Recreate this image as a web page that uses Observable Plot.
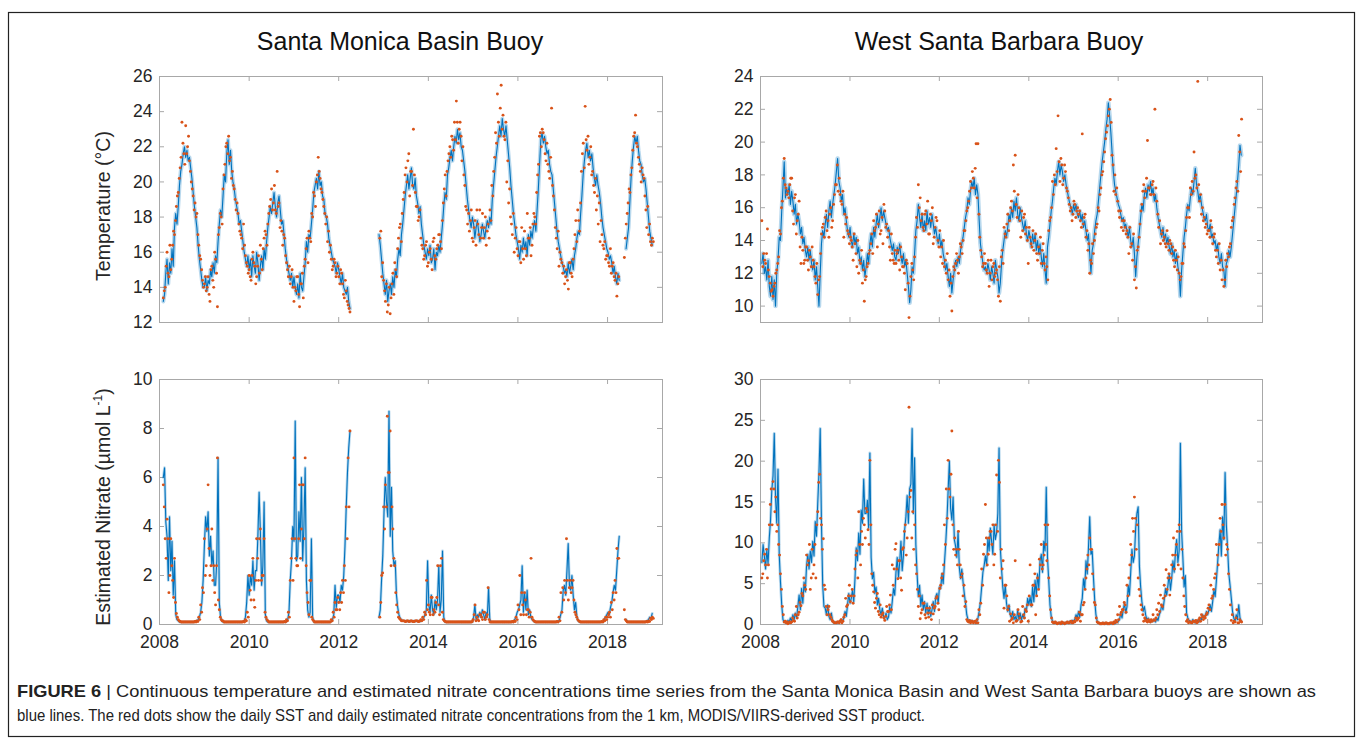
<!DOCTYPE html>
<html>
<head>
<meta charset="utf-8">
<script src="https://cdn.jsdelivr.net/npm/d3@7"></script>
<script src="https://cdn.jsdelivr.net/npm/@observablehq/plot@0.6"></script>
<style>
  html, body { margin: 0; padding: 0; background: #fff; }
  #fig { position: relative; width: 1358px; height: 739px; overflow: hidden;
         font-family: "Liberation Sans", Arial, Helvetica, sans-serif; }
  #fig > svg, #fig > div { position: absolute; }
</style>
</head>
<body>
<div id="fig">
  <svg id="deco" width="1358" height="739" style="left:0;top:0">
    <rect x="8.5" y="12.5" width="1346" height="724" fill="none" stroke="#222" stroke-width="1.2"/>
    <text x="400" y="49.5" text-anchor="middle" font-size="25" fill="#111">Santa Monica Basin Buoy</text>
    <text x="999" y="49.5" text-anchor="middle" font-size="25" fill="#111">West Santa Barbara Buoy</text>
    <text transform="translate(110,206) rotate(-90)" text-anchor="middle" font-size="19.5" fill="#262626">Temperature (°C)</text>
    <text transform="translate(110,507) rotate(-90)" text-anchor="middle" font-size="19.5" fill="#262626">Estimated Nitrate (µmol L<tspan font-size="12" dy="-8">-1</tspan><tspan dy="8">)</tspan></text>
    <g font-family="'Liberation Sans Narrow', 'Liberation Sans', Arial, sans-serif" font-size="17" fill="#222">
      <text x="17" y="697" textLength="1299" lengthAdjust="spacingAndGlyphs"><tspan font-weight="bold">FIGURE 6</tspan> | Continuous temperature and estimated nitrate concentrations time series from the Santa Monica Basin and West Santa Barbara buoys are shown as</text>
      <text x="17" y="721" textLength="908" lengthAdjust="spacingAndGlyphs">blue lines. The red dots show the daily SST and daily estimated nitrate concentrations from the 1 km, MODIS/VIIRS-derived SST product.</text>
    </g>
  </svg>
</div>
<script>
// ---------------------------------------------------------------------------
// Santa Monica Basin buoy: buoy series in three deployments, one value every
// ~10 days (36 per year); satellite values on two interleaved ~15-day grids.
// ---------------------------------------------------------------------------
const smbLineStarts = ["2008-02-01", "2012-11-25", "2018-06-01"];
const smbDotStarts = ["2008-02-01", "2008-02-09"];

const smbTempLineA = [
  // 2008 (Feb-Dec)
  13.2,13.6,14.8, 15.6,14.2,15.4, 14.8,16.2,15.2, 17.4,18.2,17.6, 18.6,19.8,20.6, 21.0,21.6,22.0,
  21.4,21.8,21.2, 21.4,20.8,20.2, 19.4,18.6,18.0, 17.4,16.4,15.6, 15.0,14.4,14.0,
  // 2009
  14.0,14.6,13.8, 14.4,14.2,15.0, 14.6,15.4,14.8, 15.8,15.4,16.6, 17.6,18.4,18.0, 19.2,20.4,20.0,
  21.6,22.4,21.0, 21.8,20.6,20.0, 19.6,19.0,18.6, 18.2,17.6,17.8, 17.2,16.6,16.0, 15.6,15.2,15.8,
  // 2010
  15.0,15.6,14.6, 15.8,15.2,14.8, 16.0,15.4,14.4, 15.2,15.8,15.0, 16.2,15.6,16.6, 17.4,18.0,18.6,
  18.2,18.8,19.4, 18.6,18.0,18.8, 19.2,18.4,17.6, 17.8,17.0,16.2, 15.6,15.2,14.8, 14.4,14.8,14.0,
  // 2011
  14.6,14.0,13.6, 14.2,13.4,14.8, 14.0,13.8,14.6, 15.4,16.6,16.0, 17.0,16.8,17.6, 18.4,19.4,19.8,
  20.2,19.6,20.6, 19.8,20.0,19.2, 19.0,18.2,18.0, 17.6,16.8,16.4, 16.0,15.6,15.4, 15.2,14.8,15.4,
  // 2012 (Jan-Mar)
  15.0,14.6,14.2, 14.8,14.0,13.8, 13.6,14.0,13.2, 12.8
];
const smbTempLineB = [
  17.0, 16.4,15.6,14.8,
  // 2013
  14.2,13.6,14.4, 13.2,13.8,14.2, 13.6,14.6,14.0, 15.0,14.6,15.6, 16.2,15.8,17.0, 17.6,18.4,19.2,
  19.8,20.4,19.6, 20.2,20.8,19.8, 19.6,20.2,19.2, 18.8,18.2,18.6, 17.6,17.0,16.4, 16.0,15.6,16.2,
  // 2014
  15.8,16.4,15.4, 15.6,16.2,15.0, 16.0,15.8,16.4, 16.0,16.8,17.6, 18.6,19.4,19.0, 20.4,20.8,21.4,
  21.8,21.2,22.0, 22.6,22.2,23.0, 22.4,22.8,22.0, 21.8,21.2,20.6, 19.8,19.0,18.4, 17.8,17.4,18.0,
  // 2015
  17.6,16.8,17.4, 17.8,17.2,16.6, 17.0,17.6,17.2, 16.8,17.4,17.8, 17.4,18.0,17.6, 19.0,19.8,20.6,
  21.4,22.0,22.6, 23.2,22.6,23.6, 23.0,22.6,23.2, 22.4,21.6,20.8, 19.8,19.0,18.2, 17.6,17.0,16.6,
  // 2016
  16.2,15.6,16.4, 16.0,16.8,16.2, 16.6,15.8,17.0, 16.4,17.2,16.8, 17.4,17.8,17.2, 18.4,19.6,21.0,
  22.4,22.8,22.2, 22.6,22.0,21.6, 21.8,21.0,20.6, 20.4,19.6,18.8, 18.0,17.2,16.6, 16.2,15.8,15.4,
  // 2017
  15.2,14.8,15.0, 14.6,15.4,14.8, 15.2,15.6,15.0, 15.8,16.2,16.8, 17.2,17.0,18.2, 19.2,20.4,21.2,
  21.8,22.2,21.4, 21.8,21.2,21.6, 20.8,20.2,19.8, 20.4,19.8,19.4, 18.8,18.0,17.4, 17.0,16.6,16.2,
  // 2018 (Jan-Mar)
  16.0,15.6,15.8, 15.4,14.8,15.2, 14.6,14.2,14.8, 14.4
];
const smbTempLineC = [
  16.2,16.8,17.4, 18.8,20.2,21.2, 22.0,22.6,22.2, 22.6,21.8,21.2, 21.0,20.4,20.0, 20.2,19.6,18.8,
  18.0,17.2,16.8, 16.4
];

const smbNitLineA = [
  // 2008 (Feb-Dec)
  6.0,6.4,4.2, 3.6,1.8,4.4, 2.2,3.4,1.2, 2.6,0.4,0.2, 0.15,0.1,0.1, 0.1,0.1,0.1,
  0.1,0.1,0.1, 0.1,0.1,0.1, 0.1,0.1,0.12, 0.15,0.2,0.3, 0.5,0.9,1.8,
  // 2009
  3.2,4.4,3.8, 4.6,2.8,3.6, 2.4,3.0,1.6, 1.6,2.6,6.8, 0.9,0.3,0.15, 0.1,0.1,0.1,
  0.1,0.1,0.1, 0.1,0.1,0.1, 0.1,0.1,0.1, 0.1,0.1,0.1, 0.1,0.12,0.15, 0.3,0.9,2.0,
  // 2010
  1.2,2.0,1.6, 2.6,1.4,2.2, 2.2,3.6,5.4, 3.8,1.6,2.4, 5.0,0.4,0.15, 0.1,0.1,0.1,
  0.1,0.1,0.1, 0.1,0.1,0.1, 0.1,0.1,0.1, 0.1,0.1,0.1, 0.12,0.2,0.5, 1.8,2.6,4.0,
  // 2011
  3.4,8.3,2.6, 2.8,4.6,3.4, 6.0,2.6,4.0, 6.4,1.8,0.6, 0.3,0.5,3.5, 0.3,0.1,0.1,
  0.1,0.1,0.1, 0.1,0.1,0.1, 0.1,0.1,0.1, 0.1,0.1,0.1, 0.12,0.2,0.4, 1.6,0.7,1.2,
  // 2012 (Jan-Mar)
  1.2,0.9,1.6, 1.4,2.0,3.2, 4.8,6.2,7.2, 7.9
];
const smbNitLineB = [
  0.3, 0.6,1.8,2.8,
  // 2013
  4.6,6.0,5.0, 4.4,8.7,3.6, 5.6,3.0,2.4, 2.6,1.2,0.7, 0.4,0.25,0.2, 0.15,0.15,0.15,
  0.15,0.12,0.15, 0.12,0.15,0.12, 0.15,0.12,0.15, 0.12,0.15,0.12, 0.15,0.2,0.3, 0.4,0.6,2.6,
  // 2014
  0.8,0.5,1.2, 0.6,0.4,1.0, 0.6,1.0,2.4, 0.5,1.0,3.0, 0.3,0.1,0.1, 0.1,0.1,0.1,
  0.1,0.1,0.1, 0.1,0.1,0.1, 0.1,0.1,0.1, 0.1,0.1,0.1, 0.1,0.1,0.1, 0.1,0.1,0.1,
  // 2015
  0.3,0.8,0.2, 0.4,0.3,0.5, 0.3,0.6,0.4, 0.2,0.5,0.3, 1.5,0.2,0.1, 0.1,0.1,0.1,
  0.1,0.1,0.1, 0.1,0.1,0.1, 0.1,0.1,0.1, 0.1,0.1,0.1, 0.1,0.1,0.1, 0.2,0.3,0.5,
  // 2016
  0.6,0.8,1.0, 2.4,0.5,1.3, 0.6,1.4,0.4, 0.6,0.3,0.2, 0.15,0.1,0.1, 0.1,0.1,0.1,
  0.1,0.1,0.1, 0.1,0.1,0.1, 0.1,0.1,0.1, 0.1,0.1,0.1, 0.1,0.1,0.1, 0.2,0.4,0.6,
  // 2017
  1.4,1.6,1.2, 2.2,3.3,1.6, 1.4,2.0,1.2, 0.6,0.9,0.3, 0.15,0.1,0.1, 0.1,0.1,0.1,
  0.1,0.1,0.1, 0.1,0.1,0.1, 0.1,0.1,0.1, 0.1,0.1,0.1, 0.1,0.1,0.1, 0.2,0.3,0.4,
  // 2018 (Jan-Mar)
  0.5,0.4,0.7, 0.9,1.3,1.6, 1.4,2.2,3.0, 3.6
];
const smbNitLineC = [
  0.2,0.12,0.1, 0.1,0.1,0.1, 0.1,0.1,0.1, 0.1,0.1,0.1, 0.1,0.1,0.1, 0.1,0.12,0.15,
  0.2,0.3,0.25, 0.45
];

// Satellite SST at the Santa Monica Basin site, two passes per grid step (null = no retrieval)
const smbTempDotsA = [
  // 2008 (Feb-Dec)
  13.4,14.0, 16.0,14.6, 15.0,16.4, 17.0,18.6, 19.4,20.8, 23.4,21.6, 23.2,22.0, 21.2,20.0, 19.2,18.8, 18.2,16.4, 15.6,14.4,
  // 2009
  14.2,13.8, 14.6,13.2, 15.2,14.0, 15.6,12.9, 17.4,18.0, 19.6,21.0, 22.2,22.6, 21.4,20.6, 19.6,18.4, 18.2,17.2, 16.8,17.6, 15.8,15.2,
  // 2010
  15.0,14.4, 16.0,15.2, 14.6,15.8, 16.4,15.0, 16.8,17.0, 17.6,18.6, 19.6,18.8, 18.4,20.6, 18.8,17.8, 16.4,16.8, 15.4,14.6, 14.2,15.0,
  // 2011
  13.2,13.8, 14.6,12.9, 14.2,13.4, 15.6,16.8, 17.2,16.6, 18.0,19.2, 20.0,21.4, 20.2,19.4, 18.6,17.6, 16.6,16.0, 15.6,15.2, 15.4,14.8,
  // 2012
  14.6,15.0, 14.2,13.4, 13.8,13.0, 12.6,null, null,null, null,null, null,null, null,null, null,null, null,null, null,null, 16.8,14.6,
  // 2013
  14.4,13.2, 12.6,14.0, 13.4,14.8, 15.4,14.6, 16.8,17.6, 18.2,19.4, 20.8,21.2, 19.2,20.6, 23.0,19.4, 18.6,18.0, 16.8,16.2, 15.8,16.6,
  // 2014
  15.4,16.2, 15.0,16.8, 15.6,16.4, 17.0,16.2, 18.8,20.4, 20.6,21.6, 21.4,22.4, 23.4,24.6, 22.2,23.4, 21.2,20.4, 18.6,17.6, 17.2,18.4,
  // 2015
  16.6,17.8, 18.4,17.0, 16.8,18.2, 17.4,16.4, 17.6,18.4, 19.8,20.6, 22.8,25.0, 22.6,25.5, 23.8,22.4, 20.0,18.8, 18.0,17.0, 16.0,17.4,
  // 2016
  15.8,16.6, 17.4,15.6, 16.2,18.2, 16.8,15.8, 17.6,18.0, 19.4,21.0, 22.8,23.0, 22.4,21.2, 21.0,20.2, 24.2,19.2, 17.4,16.2, 15.2,15.6,
  // 2017
  14.8,14.2, 15.0,13.9, 15.4,14.6, 16.2,17.8, 18.4,17.2, 20.6,22.2, 24.3,21.8, 21.0,22.0, 20.6,19.4, 18.4,17.6, 16.6,17.0, 16.2,15.6,
  // 2018
  15.8,15.2, 14.8,15.4, 14.4,13.5, 14.6,null, null,15.7, 17.6,18.8, 19.4,20.8, 22.6,23.8, 22.0,21.0, 20.0,20.4, 19.2,17.4, 17.0,16.6,
  // 2019 (Jan)
  16.8
];
const smbTempDotsB = [
  // 2008 (Feb-Dec)
  13.8,15.2, 14.8,16.4, 15.6,17.2, 17.8,19.2, 20.2,21.4, 22.2,21.0, 21.6,22.6, 20.6,19.6, 18.4,18.0, 17.0,15.8, 15.0,14.0,
  // 2009
  14.6,14.0, 13.6,15.0, 14.4,16.0, 14.8,17.0, 18.2,17.6, 20.4,22.0, 21.6,21.2, 20.2,19.8, 19.0,18.8, 17.6,17.0, 16.2,16.4, 15.4,14.8,
  // 2010
  14.6,15.6, 15.4,14.2, 15.2,14.8, 15.6,16.2, 17.2,16.4, 18.2,19.0, 18.4,19.8, 18.2,18.6, 17.4,17.2, 17.0,15.8, 15.0,15.2, 14.6,14.0,
  // 2011
  14.0,14.6, 13.6,14.2, 14.8,15.2, 16.2,15.4, 16.8,18.2, 19.4,18.6, 20.4,20.6, 19.6,19.0, 18.2,18.0, 17.2,16.4, 15.0,15.6, 14.6,15.2,
  // 2012
  14.2,14.8, 13.6,14.4, 13.2,12.8, null,null, null,null, null,null, null,null, null,null, null,null, null,null, null,null, 17.2,15.4,
  // 2013
  13.8,14.2, 13.0,12.5, 14.2,13.6, 15.0,16.2, 17.4,16.6, 19.0,20.4, 20.0,21.6, 20.6,19.8, 20.4,18.6, 17.8,18.4, 16.4,15.6, 16.4,15.2,
  // 2014
  16.0,15.6, 16.6,15.8, 16.2,17.0, 16.6,17.8, 19.6,19.2, 21.2,22.0, 22.6,21.8, 22.4,23.4, 23.0,22.6, 22.0,19.8, 18.4,18.2, 17.8,16.8,
  // 2015
  17.4,16.4, 17.6,18.4, 17.4,16.8, 18.0,17.2, 16.8,17.8, 19.2,21.4, 22.2,23.4, 24.2,23.0, 22.6,23.4, 21.2,19.6, 17.6,18.2, 16.8,16.2,
  // 2016
  16.6,15.4, 16.2,17.2, 15.8,16.8, 17.4,16.4, 18.2,17.6, 20.4,22.6, 22.0,22.8, 21.6,22.2, 20.6,21.4, 19.8,18.4, 16.8,17.2, 16.0,15.4,
  // 2017
  15.2,14.6, 14.4,15.4, 14.8,15.6, 17.0,16.6, 17.8,18.8, 21.6,20.8, 22.4,22.6, 21.4,20.4, 19.8,20.2, 19.2,18.8, 17.8,16.4, 16.6,15.8,
  // 2018
  15.4,16.2, 15.2,14.6, 14.8,14.2, null,null, null,16.8, 18.2,19.6, 20.4,21.8, 22.8,22.2, 21.4,20.6, 20.8,20.2, 18.4,18.6, 17.6,16.4,
  // 2019 (Jan)
  16.6
];
const smbNitDotsA = [
  // 2008 (Feb-Dec)
  5.7,3.5, 4.3,1.3, 3.5,1.8, 2.7,0.45, 0.2,0.12, 0.1,0.1, 0.1,0.1, 0.1,0.1, 0.1,0.12, 0.15,0.3, 0.8,1.5,
  // 2009
  3.5,2.4, 5.7,2.0, 3.9,2.4, 0.8,6.8, 0.6,0.2, 0.15,0.1, 0.1,0.1, 0.1,0.1, 0.1,0.1, 0.1,0.1, 0.1,0.12, 0.2,0.5,
  // 2010
  2.0,1.0, 2.7,0.7, 3.5,1.8, 3.9,2.0, 3.5,0.3, 0.15,0.1, 0.1,0.1, 0.1,0.1, 0.1,0.1, 0.1,0.12, 0.2,0.5, 1.8,3.5,
  // 2011
  6.8,2.7, 2.4,5.7, 3.9,5.7, 6.8,1.3, 0.4,1.8, 0.2,0.1, 0.1,0.1, 0.1,0.1, 0.1,0.1, 0.1,0.1, 0.2,0.5, 0.9,0.6,
  // 2012
  0.9,1.3, 1.8,2.4, 4.8,6.8, 7.9,null, null,null, null,null, null,null, null,null, null,null, null,null, null,null, 0.3,2.0,
  // 2013
  4.8,5.7, 8.5,6.2, 2.4,3.9, 2.4,0.8, 0.3,0.2, 0.15,0.15, 0.12,0.15, 0.12,0.15, 0.12,0.15, 0.15,0.12, 0.2,0.3, 0.5,1.8,
  // 2014
  0.8,0.4, 1.1,0.6, 0.9,2.4, 0.4,2.7, 0.2,0.12, 0.1,0.1, 0.1,0.1, 0.1,0.1, 0.1,0.1, 0.1,0.1, 0.1,0.1, 0.1,0.1,
  // 2015
  0.2,0.8, 0.3,0.15, 0.4,0.2, 0.5,0.3, 1.5,0.1, 0.1,0.1, 0.1,0.1, 0.1,0.1, 0.1,0.1, 0.1,0.1, 0.1,0.12, 0.15,0.3,
  // 2016
  0.8,2.0, 1.3,0.4, 1.0,0.6, 0.3,2.7, 0.2,0.12, 0.1,0.1, 0.1,0.1, 0.1,0.1, 0.1,0.1, 0.1,0.1, 0.1,0.12, 0.3,1.3,
  // 2017
  1.5,1.8, 3.5,1.0, 1.8,1.5, 1.0,0.4, 0.2,0.12, 0.1,0.1, 0.1,0.1, 0.1,0.1, 0.1,0.1, 0.1,0.1, 0.1,0.12, 0.2,0.3,
  // 2018
  0.3,0.5, 0.9,1.3, 1.8,3.1, 2.7,null, null,0.6, 0.15,0.1, 0.1,0.1, 0.1,0.1, 0.1,0.1, 0.1,0.1, 0.1,0.12, 0.15,0.25,
  // 2019 (Jan)
  0.3
];
const smbNitDotsB = [
  // 2008 (Feb-Dec)
  4.8,2.7, 3.5,2.0, 2.4,1.1, 0.9,0.3, 0.15,0.1, 0.1,0.1, 0.1,0.1, 0.1,0.1, 0.1,0.1, 0.12,0.2, 0.5,1.3,
  // 2009
  2.0,3.9, 3.1,2.4, 1.8,1.3, 2.4,1.0, 0.3,0.15, 0.1,0.1, 0.1,0.1, 0.1,0.1, 0.1,0.1, 0.1,0.1, 0.1,0.1, 0.15,0.3,
  // 2010
  1.4,2.0, 1.0,1.8, 2.7,3.5, 1.8,2.0, 0.5,0.2, 0.1,0.1, 0.1,0.1, 0.1,0.1, 0.1,0.1, 0.1,0.1, 0.15,0.3, 2.7,1.8,
  // 2011
  3.5,2.4, 3.5,2.7, 5.7,3.5, 2.4,0.9, 1.8,0.3, 0.15,0.1, 0.1,0.1, 0.1,0.1, 0.1,0.1, 0.1,0.1, 0.15,0.3, 0.6,1.1,
  // 2012
  0.6,0.9, 1.3,1.8, 3.5,4.8, null,null, null,null, null,null, null,null, null,null, null,null, null,null, null,null, 0.9,2.1,
  // 2013
  3.9,4.8, 6.2,7.9, 4.8,2.7, 1.3,0.5, 0.25,0.15, 0.15,0.12, 0.15,0.12, 0.15,0.12, 0.12,0.15, 0.12,0.15, 0.15,0.2, 0.4,0.6,
  // 2014
  0.5,1.1, 0.4,0.5, 1.1,0.8, 2.4,0.5, 0.15,0.1, 0.1,0.1, 0.1,0.1, 0.1,0.1, 0.1,0.1, 0.1,0.1, 0.1,0.1, 0.1,0.12,
  // 2015
  0.4,0.15, 0.2,0.4, 0.3,0.5, 0.2,0.4, 0.2,0.1, 0.1,0.1, 0.1,0.1, 0.1,0.1, 0.1,0.1, 0.1,0.1, 0.1,0.1, 0.12,0.2,
  // 2016
  0.6,0.4, 0.8,1.3, 0.4,0.6, 0.5,0.3, 0.15,0.1, 0.1,0.1, 0.1,0.1, 0.1,0.1, 0.1,0.1, 0.1,0.1, 0.1,0.1, 0.15,0.5,
  // 2017
  1.0,1.3, 1.8,1.5, 1.3,1.8, 0.5,0.3, 0.15,0.1, 0.1,0.1, 0.1,0.1, 0.1,0.1, 0.1,0.1, 0.1,0.1, 0.1,0.1, 0.15,0.2,
  // 2018
  0.4,0.3, 0.6,1.0, 1.3,2.7, null,null, null,0.2, 0.1,0.1, 0.1,0.1, 0.1,0.1, 0.1,0.1, 0.1,0.1, 0.1,0.1, 0.12,0.2,
  // 2019 (Jan)
  0.25
];

// ---------------------------------------------------------------------------
// West Santa Barbara buoy: one continuous deployment.
// ---------------------------------------------------------------------------
const wsbLineStart = "2008-01-12";
const wsbDotStarts = ["2008-01-12", "2008-01-20"];

const wsbTempLine = [
  // 2008
  12.6,13.2,12.0, 12.4,11.6,12.8, 11.2,10.6,11.8, 10.4,11.6,10.0, 12.0,12.8,14.2, 14.0,15.8,17.2,
  18.8,16.6,17.2, 16.8,17.4,16.2, 17.0,16.4,15.6, 16.2,15.0,15.6, 15.2,14.4,14.8, 13.8,14.2,13.4,
  // 2009
  13.0,13.6,12.8, 13.4,12.6,12.2, 12.8,11.6,12.4, 11.2,10.0,12.0, 13.8,14.6,14.2, 15.0,15.6,14.8,
  15.8,16.4,15.4, 16.2,16.8,17.4, 18.2,19.0,17.6, 17.2,16.4,16.8, 15.6,16.0,15.2, 14.6,14.2,14.8,
  // 2010
  14.0,13.6,14.4, 13.8,14.2,13.2, 13.6,12.6,13.0, 12.2,12.8,11.8, 12.4,13.2,12.6, 13.8,14.4,13.6,
  14.8,14.2,15.0, 15.6,14.8,15.4, 16.0,15.2,15.8, 15.4,15.0,14.6, 14.8,14.2,13.8, 13.4,13.8,13.0,
  // 2011
  12.8,13.6,13.2, 13.8,13.0,12.6, 13.2,12.4,12.8, 12.0,11.2,10.2, 11.0,12.4,12.0, 13.2,14.6,15.2,
  16.2,15.4,14.8, 15.6,14.6,15.2, 14.6,15.8,15.0, 15.4,14.8,15.6, 15.0,14.4,14.8, 14.2,13.8,14.4,
  // 2012
  13.6,14.0,13.2, 12.8,12.2,12.6, 11.8,11.2,12.0, 10.8,11.6,12.2, 12.8,12.4,13.0, 12.6,13.4,13.8,
  14.2,14.8,15.4, 15.8,16.6,16.2, 17.0,17.6,17.2, 17.8,16.8,17.4, 16.8,15.2,13.8, 13.2,12.6,12.2,
  // 2013
  12.4,12.0,12.6, 12.2,11.6,12.4, 12.0,11.4,12.8, 12.2,11.8,10.8, 11.4,12.6,13.4, 14.0,14.6,14.2,
  14.8,15.6,15.2, 16.0,15.4,16.4, 15.8,16.6,15.6, 15.2,16.0,15.4, 15.0,14.6,15.2, 14.4,14.0,14.6,
  // 2014
  14.2,13.6,14.4, 13.8,14.4,13.4, 14.0,13.2,13.8, 13.0,12.4,13.2, 12.2,11.4,13.6, 14.2,15.0,15.8,
  16.4,17.2,17.8, 17.4,18.2,18.8, 18.0,18.6,18.2, 17.6,18.0,17.4, 17.0,16.6,16.2, 16.0,15.6,16.2,
  // 2015
  15.8,16.2,15.6, 15.4,15.8,15.2, 15.6,14.8,15.2, 14.6,14.0,14.4, 13.2,12.0,13.4, 13.8,14.6,15.2,
  15.6,16.4,17.2, 18.0,18.8,19.4, 20.0,20.8,21.4, 22.4,21.6,20.6, 19.4,18.2,17.4, 17.0,16.6,16.2,
  // 2016
  16.0,15.6,15.2, 15.4,14.8,15.0, 14.6,14.2,14.8, 14.0,13.6,14.2, 13.2,11.8,13.0, 13.8,14.6,15.4,
  16.2,15.8,16.8, 17.2,16.6,17.4, 17.0,17.6,16.8, 17.2,16.4,16.8, 16.0,15.4,15.0, 14.6,14.2,14.8,
  // 2017
  14.0,14.4,13.8, 14.2,13.6,13.2, 13.8,13.0,13.4, 12.6,13.2,12.4, 12.0,10.6,12.2, 13.2,14.2,14.8,
  15.6,16.2,15.8, 16.6,17.2,16.8, 17.6,18.4,17.4, 17.0,16.4,16.8, 16.2,15.8,15.4, 15.2,15.6,14.8,
  // 2018 (Jan-Sep)
  14.6,15.0,14.2, 14.4,13.8,14.0, 13.4,13.8,13.0, 12.6,13.2,12.4, 12.2,11.2,12.6, 12.8,13.4,13.0,
  13.6,14.4,15.2, 16.0,16.8,17.6, 18.6,19.8,19.2
];
const wsbNitLine = [
  // 2008
  7.6,9.8,8.4, 6.8,9.2,7.4, 10.6,12.8,16.4, 18.2,23.4,15.6, 12.4,19.0,8.6, 5.2,2.4,0.6,
  0.3,0.4,0.2, 0.5,0.3,0.8, 0.4,1.2,0.6, 1.4,0.8,2.2, 3.6,1.8,4.4, 2.6,5.2,4.0,
  // 2009
  7.2,8.6,6.8, 9.0,7.6,10.2, 8.4,12.6,10.8, 14.8,18.6,24.0, 12.4,4.8,2.2, 2.0,1.2,2.4,
  1.0,0.6,1.4, 0.4,0.2,0.3, 0.2,0.2,0.3, 0.3,0.6,0.4, 0.8,1.6,1.0, 2.4,3.8,2.6,
  // 2010
  3.2,4.2,2.8, 5.6,9.4,7.8, 11.2,8.6,14.0, 12.4,17.8,13.6, 13.6,15.2,11.8, 21.0,8.2,5.6,
  6.4,3.8,4.6, 2.4,3.2,1.8, 1.2,2.0,1.0, 0.8,1.4,0.6, 0.9,2.2,1.4, 2.8,4.4,3.6,
  // 2011
  6.4,8.2,5.8, 7.6,10.2,6.6, 8.4,11.6,13.2, 15.8,12.4,16.6, 17.2,24.0,13.6, 20.4,9.8,6.2,
  3.4,4.8,2.2, 3.6,1.8,2.8, 1.4,2.6,1.2, 2.2,1.0,1.8, 2.8,1.6,3.4, 3.8,2.6,4.6,
  // 2012
  4.4,6.2,5.0, 7.4,9.8,12.6, 16.4,20.0,14.2, 12.8,15.6,10.4, 9.6,8.2,11.4, 7.0,5.6,6.8,
  5.2,3.8,2.6, 1.2,0.6,0.4, 0.3,0.5,0.3, 0.4,0.2,0.3, 0.8,1.6,2.8, 4.6,6.4,7.2,
  // 2013
  8.4,7.2,10.6, 9.0,11.8,10.2, 8.6,12.2,10.4, 11.2,13.6,21.6, 9.4,6.8,4.6, 3.2,4.8,2.6,
  1.6,2.4,1.2, 0.8,1.6,0.6, 1.0,0.4,1.8, 0.6,1.4,0.5, 1.2,0.8,2.0, 1.6,3.2,2.4,
  // 2014
  3.4,2.2,4.6, 2.8,5.4,3.6, 6.2,4.4,7.8, 8.6,6.4,10.2, 9.0,16.8,8.2, 5.4,2.4,1.0,
  0.4,0.2,0.3, 0.2,0.1,0.2, 0.1,0.2,0.1, 0.2,0.1,0.2, 0.3,0.2,0.4, 0.2,0.5,0.3,
  // 2015
  0.6,1.2,0.8, 1.6,0.9,2.4, 3.2,5.6,4.4, 7.8,6.2,9.4, 13.2,8.6,9.0, 5.8,3.0,1.2,
  0.4,0.2,0.1, 0.1,0.1,0.2, 0.1,0.1,0.1, 0.1,0.1,0.1, 0.1,0.2,0.1, 0.2,0.3,0.4,
  // 2016
  0.6,1.4,0.8, 1.8,2.6,1.4, 2.2,4.8,3.6, 6.4,9.2,7.6, 8.4,11.8,13.6, 14.4,7.2,4.6,
  2.8,1.6,2.2, 1.2,0.6,0.8, 0.4,0.3,0.5, 0.4,0.6,0.3, 0.8,0.5,1.2, 1.6,2.4,1.8,
  // 2017
  3.0,4.4,3.6, 4.8,6.2,4.2, 5.6,7.8,6.4, 8.8,10.4,7.6, 9.0,22.2,11.4, 8.2,4.6,6.0,
  1.4,0.8,0.5, 0.4,0.3,0.6, 0.3,0.2,0.4, 0.5,0.3,0.8, 0.6,1.2,0.8, 1.0,1.6,1.2,
  // 2018 (Jan-Sep)
  1.8,2.4,1.6, 2.8,4.2,3.4, 5.4,7.6,9.8, 11.6,8.4,13.2, 10.4,18.6,12.2, 9.4,6.2,4.8,
  3.2,1.6,0.8, 0.4,1.2,0.6, 2.4,0.8,0.4
];

const wsbTempDotsA = [
  // 2008
  15.2,13.2, 12.6,14.7, 11.8,10.9, 10.6,11.4, 12.2,13.0, 14.4,16.4, 19.0,17.2, 17.0,17.4, 17.8,15.0, 16.8,15.2, 16.4,12.6, 13.4,12.8,
  // 2009
  13.6,12.2, 13.0,13.6, 12.4,11.4, 10.7,11.8, 14.4,15.0, 15.4,14.6, 14.2,16.0, 15.2,16.8, 17.4,17.0, 16.8,16.2, 14.2,15.0, 14.6,13.8,
  // 2010
  14.0,12.8, 13.8,12.4, 12.0,12.6, 11.4,10.3, 11.8,12.6, 13.4,14.4, 15.2,14.8, 13.6,15.8, 14.6,13.8, 15.8,15.0, 14.6,12.8, 13.2,12.6,
  // 2011
  12.6,13.4, 12.2,13.0, 12.4,11.0, 12.6,9.3, 11.8,12.2, 13.0,15.4, 17.4,16.6, 15.6,14.6, 15.8,16.4, 14.4,15.2, 13.8,14.8, 15.2,13.6,
  // 2012
  13.0,12.6, 12.4,12.0, 11.6,10.6, 9.7,12.4, 12.6,12.8, 13.0,13.6, 14.0,14.6, 15.8,16.4, 17.6,18.2, 17.2,19.9, 19.9,14.2, 13.0,12.6,
  // 2013
  12.6,12.0, 11.2,12.8, 12.4,11.8, 12.2,10.6, 10.3,13.4, 14.8,14.2, 15.6,15.2, 16.4,18.6, 19.2,15.4, 16.0,14.2, 14.6,15.6, 14.8,12.6,
  // 2014
  14.2,13.6, 13.4,14.4, 12.8,13.2, 12.6,13.8, 12.2,12.4, 14.6,15.4, 17.6,18.0, 19.6,21.6, 17.6,18.6, 17.8,18.2, 17.0,16.2, 16.0,15.6,
  // 2015
  16.2,15.8, 15.6,15.2, 20.5,15.4, 14.2,13.4, 12.0,12.6, 13.2,14.4, 15.0,15.8, 17.2,18.2, 19.4,20.6, 21.6,22.6, 19.2,17.0, 16.8,16.4,
  // 2016
  15.4,14.8, 14.6,14.8, 14.6,13.2, 13.6,12.8, 11.6,11.1, 13.6,15.0, 16.2,17.4, 17.0,20.1, 17.2,16.8, 17.6,22.0, 16.4,14.8, 13.8,14.6,
  // 2017
  14.2,13.6, 13.8,14.0, 13.2,12.8, 13.4,12.2, 12.0,11.8, 12.6,13.6, 15.4,16.0, 17.2,17.6, 19.4,18.0, 23.7,16.4, 15.6,15.2, 14.8,14.4,
  // 2018 (Jan-Sep)
  14.6,15.2, 13.8,14.4, 13.0,12.6, 12.2,11.6, 11.2,12.8, 13.2,13.6, 14.8,15.4, 16.6,17.6, 20.4,18.2
];
const wsbTempDotsB = [
  // 2008
  12.4,12.8, 13.2,12.2, 11.4,11.0, 11.2,12.0, 12.6,14.6, 16.0,17.8, 17.4,16.8, 16.6,17.8, 15.8,16.6, 14.4,15.6, 13.6,14.2, 12.6,13.6,
  // 2009
  12.8,13.4, 12.4,12.8, 11.8,12.6, 11.6,13.2, 14.8,14.2, 15.8,15.2, 15.6,14.8, 16.2,17.4, 18.6,17.8, 16.4,17.0, 15.6,15.4, 14.4,14.2,
  // 2010
  13.6,14.4, 13.2,14.0, 12.8,13.4, 12.2,11.6, 12.4,13.2, 13.8,13.2, 14.6,15.6, 15.0,14.4, 15.4,16.2, 14.8,14.2, 13.6,14.4, 12.8,13.4,
  // 2011
  13.2,12.8, 13.6,12.4, 12.0,12.8, 11.4,10.6, 12.6,11.6, 14.2,14.8, 16.0,15.2, 14.8,15.6, 15.0,14.4, 15.6,16.0, 14.2,15.4, 14.0,14.6,
  // 2012
  13.6,14.0, 12.8,13.2, 12.2,11.4, 11.8,12.2, 13.2,12.0, 13.8,13.2, 14.6,15.2, 16.0,17.0, 17.2,17.8, 18.4,16.6, 15.6,13.4, 12.4,13.2,
  // 2013
  12.2,12.8, 12.0,11.6, 12.6,12.0, 11.6,12.4, 13.0,12.6, 14.4,15.0, 14.6,16.0, 15.8,17.0, 16.2,16.8, 15.2,15.8, 15.4,14.4, 14.0,14.8,
  // 2014
  13.8,14.6, 14.0,13.2, 13.6,14.2, 13.4,12.6, 13.0,11.6, 15.2,16.0, 16.8,17.4, 18.2,18.8, 19.0,17.4, 18.6,17.2, 16.6,15.8, 15.2,16.4,
  // 2015
  15.4,16.0, 15.8,14.8, 15.0,15.6, 14.6,13.8, 12.8,13.8, 14.0,14.8, 16.0,16.8, 18.0,18.8, 20.2,21.0, 22.0,21.2, 18.6,18.0, 17.2,15.8,
  // 2016
  15.8,15.2, 15.2,14.4, 14.2,14.8, 13.8,14.4, 12.4,13.4, 14.2,15.8, 17.0,16.6, 17.8,17.2, 16.8,17.4, 16.8,17.2, 15.6,15.2, 14.4,14.0,
  // 2017
  13.8,14.6, 13.4,13.8, 13.6,12.4, 12.8,13.0, 11.6,12.6, 13.8,14.6, 16.0,15.4, 16.8,17.0, 17.8,17.2, 17.4,16.8, 16.0,15.4, 15.0,14.6,
  // 2018 (Jan-Sep)
  14.2,14.8, 14.2,13.4, 13.4,13.8, 12.8,12.2, 11.6,12.4, 13.0,13.8, 15.2,16.2, 17.2,17.0, 19.4,21.4
];
const wsbNitDotsA = [
  // 2008
  5.7,7.8, 7.3,5.7, 12.2,16.6, 17.5,13.8, 11.4,9.8, 6.2,2.2, 0.3,0.2, 0.1,0.3, 0.3,0.5, 1.2,0.8, 1.5,2.3, 3.5,4.8,
  // 2009
  8.5,7.8, 4.3,9.2, 7.3,5.7, 13.8,18.4, 12.2,10.5, 4.3,1.2, 2.2,0.9, 0.4,0.2, 0.2,0.3, 0.4,0.2, 0.9,3.2, 2.4,4.8,
  // 2010
  3.5,2.6, 6.8,9.0, 13.8,7.3, 9.8,12.2, 14.2,11.6, 20.1,6.2, 4.0,2.0, 3.8,1.2, 0.9,1.4, 0.5,2.2, 1.6,3.6, 7.3,6.8,
  // 2011
  9.9,5.6, 7.8,4.2, 9.4,12.2, 10.6,26.6, 16.4,13.8, 12.2,6.2, 2.2,0.7, 1.8,2.6, 0.8,1.4, 2.0,0.6, 1.3,2.2, 3.4,1.8,
  // 2012
  4.8,6.2, 12.2,16.6, 20.1,15.6, 23.7,9.2, 8.5,7.3, 9.2,5.8, 3.5,2.2, 0.6,0.3, 0.2,0.4, 0.3,0.2, 0.2,1.2, 6.8,8.6,
  // 2013
  14.7,7.3, 10.6,11.4, 12.2,8.6, 18.3,20.1, 5.7,6.8, 2.0,4.8, 1.8,0.4, 0.6,0.2, 7.8,0.5, 1.3,0.3, 2.2,0.8, 1.6,0.4,
  // 2014
  7.3,2.4, 4.8,1.2, 5.7,8.0, 9.8,7.3, 12.2,7.8, 5.7,1.8, 0.3,0.2, 0.2,0.15, 0.2,0.3, 0.2,0.2, 0.3,0.2, 0.4,0.2,
  // 2015
  0.3,0.5, 0.8,0.4, 1.2,2.7, 5.7,8.5, 10.6,9.2, 4.3,2.4, 0.3,0.2, 0.1,0.2, 0.1,0.2, 0.1,0.2, 0.2,0.3, 0.5,1.2,
  // 2016
  2.2,1.5, 1.8,2.4, 4.8,5.7, 9.8,13.0, 15.6,9.2, 5.7,3.5, 1.8,0.4, 0.6,0.3, 0.4,0.6, 1.2,0.5, 1.8,2.6, 3.6,2.2,
  // 2017
  4.8,6.7, 5.7,3.6, 7.3,10.6, 8.5,11.4, 12.2,6.8, 5.7,2.2, 0.4,0.2, 0.3,0.2, 0.4,0.5, 0.3,0.8, 1.2,0.6, 0.8,1.4,
  // 2018 (Jan-Sep)
  2.4,4.8, 3.5,5.7, 9.8,7.3, 13.0,14.7, 10.6,8.5, 9.2,4.3, 0.5,0.2, 0.3,1.8, 0.2,0.4
];
const wsbNitDotsB = [
  // 2008
  6.2,8.6, 9.2,7.3, 14.7,12.2, 16.6,15.6, 12.2,8.5, 4.3,1.2, 0.4,0.3, 0.2,0.2, 0.8,0.4, 2.2,1.2, 2.7,3.8, 5.7,4.3,
  // 2009
  7.3,9.8, 5.7,6.2, 9.8,12.2, 17.4,13.0, 9.2,4.8, 2.2,1.8, 1.2,0.6, 0.3,0.2, 0.3,0.2, 0.6,0.4, 1.2,2.2, 3.5,2.8,
  // 2010
  4.3,3.5, 8.5,5.7, 9.8,11.4, 13.0,10.6, 13.8,9.8, 12.2,4.8, 2.7,3.2, 1.6,2.4, 1.2,0.8, 1.0,1.6, 2.4,1.8, 4.8,9.2,
  // 2011
  6.8,7.8, 5.7,9.2, 11.4,8.5, 13.8,15.6, 10.6,9.2, 7.3,4.3, 3.5,1.4, 2.6,1.2, 2.0,0.9, 1.4,2.4, 2.0,3.2, 2.6,4.4,
  // 2012
  5.7,7.3, 9.8,13.0, 16.6,18.4, 12.2,10.6, 9.2,11.4, 7.3,6.2, 4.8,2.8, 0.4,0.5, 0.3,0.2, 0.4,0.6, 1.8,2.6, 4.8,9.8,
  // 2013
  10.6,8.6, 11.4,9.8, 7.3,12.2, 11.4,17.4, 9.2,7.8, 4.8,3.5, 2.2,1.3, 0.8,1.2, 0.4,1.8, 0.8,0.4, 1.2,1.8, 2.4,3.5,
  // 2014
  2.4,4.8, 6.2,3.5, 4.3,7.3, 6.8,8.5, 9.8,12.2, 3.5,0.8, 0.2,0.3, 0.1,0.2, 0.1,0.2, 0.1,0.2, 0.2,0.3, 0.2,0.4,
  // 2015
  0.8,0.6, 1.5,1.2, 2.4,4.3, 6.8,7.3, 9.2,6.2, 2.7,0.8, 0.2,0.1, 0.1,0.1, 0.2,0.1, 0.1,0.2, 0.1,0.2, 0.3,0.6,
  // 2016
  1.2,1.8, 2.7,1.5, 3.5,7.3, 8.5,11.4, 13.0,12.2, 4.3,2.4, 1.2,0.8, 0.4,0.6, 0.3,0.4, 0.6,0.8, 1.2,1.6, 2.4,3.2,
  // 2017
  3.5,4.3, 6.2,5.7, 8.5,6.8, 9.8,7.3, 11.4,9.2, 3.5,1.2, 0.6,0.3, 0.2,0.4, 0.3,0.2, 0.6,0.4, 0.9,1.0, 1.2,2.0,
  // 2018 (Jan-Sep)
  1.8,3.2, 4.3,6.2, 8.5,9.8, 11.4,12.2, 14.7,9.8, 6.2,2.4, 1.2,0.4, 0.8,0.2, 0.6,0.3
];

// Axis ticks
const xTickYears = [2008, 2010, 2012, 2014, 2016, 2018];
const smbTempTicks = [12, 14, 16, 18, 20, 22, 24, 26];
const wsbTempTicks = [10, 12, 14, 16, 18, 20, 22, 24];
const smbNitTicks = [0, 2, 4, 6, 8, 10];
const wsbNitTicks = [0, 5, 10, 15, 20, 25, 30];

// ---------------------------------------------------------------------------
const DAY = 864e5;
const LINE_STEP = 365.25 / 36;   // days between buoy samples
const DOT_STEP = 365.25 / 24;    // days between satellite samples

function toSeries(start, values, stepDays, seg = 0) {
  const t0 = Date.parse(start);
  return values
    .map((v, i) => ({date: new Date(t0 + i * stepDays * DAY), value: v, seg}))
    .filter(d => d.value != null);
}
function dotSeries(starts, a, b) {
  return [...toSeries(starts[0], a, DOT_STEP), ...toSeries(starts[1], b, DOT_STEP)];
}

const xDomain = [new Date("2008-01-01"), new Date("2019-03-25")];
const xTicks = xTickYears.map(y => new Date(Date.UTC(y, 0, 1)));

const BLUE = "#0072BD", RED = "#D95319", AXIS = "#a8a8a8", TEXT = "#262626";
const TICK_LEN = 5;

function panel({left, top, width, height, margin, yDomain, yTicks, lines, dots, xLabels, haze}) {
  const fw = width - margin.left - margin.right;
  const fh = height - margin.top - margin.bottom;
  const chart = Plot.plot({
    width, height,
    marginLeft: margin.left, marginRight: margin.right,
    marginTop: margin.top, marginBottom: margin.bottom,
    style: {background: "transparent", fontFamily: '"Liberation Sans", Arial, Helvetica, sans-serif', color: TEXT, overflow: "visible"},
    x: {type: "utc", domain: xDomain, axis: xLabels ? undefined : null},
    y: {domain: yDomain},
    marks: [
      Plot.frame({stroke: AXIS}),
      // inward ticks on all four sides
      Plot.tickY(yTicks, {y: d => d, stroke: AXIS, insetRight: fw - TICK_LEN}),
      Plot.tickY(yTicks, {y: d => d, stroke: AXIS, insetLeft: fw - TICK_LEN}),
      Plot.tickX(xTicks, {x: d => d, stroke: AXIS, insetTop: fh - TICK_LEN}),
      Plot.tickX(xTicks, {x: d => d, stroke: AXIS, insetBottom: fh - TICK_LEN}),
      // buoy record: faint high-frequency envelope plus the daily trace
      Plot.line(lines, {x: "date", y: "value", z: "seg", stroke: BLUE, strokeOpacity: 0.28, strokeWidth: haze}),
      Plot.line(lines, {x: "date", y: "value", z: "seg", stroke: BLUE, strokeWidth: 1.1}),
      // satellite-derived values
      Plot.dot(dots, {x: "date", y: "value", r: 1.45, fill: RED, stroke: null}),
      Plot.axisY(yTicks, {anchor: "left", tickSize: 0, tickPadding: 7, label: null, fontSize: 17.5, fill: TEXT}),
      xLabels
        ? Plot.axisX(xTicks, {anchor: "bottom", tickSize: 0, tickPadding: 11, label: null, tickFormat: "%Y", fontSize: 17.5, fill: TEXT})
        : null
    ]
  });
  chart.style.left = left + "px";
  chart.style.top = top + "px";
  document.getElementById("fig").appendChild(chart);
}

const smbTempLines = [
  ...toSeries(smbLineStarts[0], smbTempLineA, LINE_STEP, 0),
  ...toSeries(smbLineStarts[1], smbTempLineB, LINE_STEP, 1),
  ...toSeries(smbLineStarts[2], smbTempLineC, LINE_STEP, 2)
];
const smbNitLines = [
  ...toSeries(smbLineStarts[0], smbNitLineA, LINE_STEP, 0),
  ...toSeries(smbLineStarts[1], smbNitLineB, LINE_STEP, 1),
  ...toSeries(smbLineStarts[2], smbNitLineC, LINE_STEP, 2)
];

const leftMargins = {top: 76, bottom: 28, left: 159, right: 38};
const rightMargins = {top: 76, bottom: 28, left: 60, right: 96};
const leftMarginsLow = {top: 29, bottom: 36, left: 159, right: 38};
const rightMarginsLow = {top: 29, bottom: 36, left: 60, right: 96};

panel({left: 0, top: 0, width: 700, height: 350, margin: leftMargins,
  yDomain: [12, 26], yTicks: smbTempTicks, lines: smbTempLines, haze: 4,
  dots: dotSeries(smbDotStarts, smbTempDotsA, smbTempDotsB), xLabels: false});
panel({left: 700, top: 0, width: 658, height: 350, margin: rightMargins,
  yDomain: [9, 24], yTicks: wsbTempTicks, lines: toSeries(wsbLineStart, wsbTempLine, LINE_STEP), haze: 4.5,
  dots: dotSeries(wsbDotStarts, wsbTempDotsA, wsbTempDotsB), xLabels: false});
panel({left: 0, top: 350, width: 700, height: 310, margin: leftMarginsLow,
  yDomain: [0, 10], yTicks: smbNitTicks, lines: smbNitLines, haze: 2.8,
  dots: dotSeries(smbDotStarts, smbNitDotsA, smbNitDotsB), xLabels: true});
panel({left: 700, top: 350, width: 658, height: 310, margin: rightMarginsLow,
  yDomain: [0, 30], yTicks: wsbNitTicks, lines: toSeries(wsbLineStart, wsbNitLine, LINE_STEP), haze: 3,
  dots: dotSeries(wsbDotStarts, wsbNitDotsA, wsbNitDotsB), xLabels: true});
</script>
</body>
</html>
